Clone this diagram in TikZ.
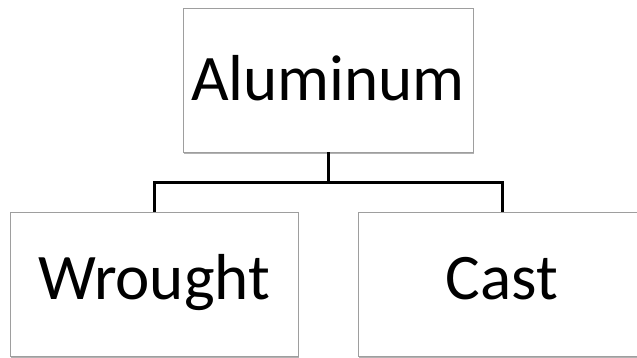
\documentclass[tikz,border=0pt]{standalone}
\usepackage{fontspec}
\setmainfont{Carlito}
\usetikzlibrary{shadows}
\begin{document}
\begin{tikzpicture}[x=1pt,y=1pt,
  box/.style={draw=black!38, line width=0.8pt, fill=white, minimum width=288pt, minimum height=144pt,
    inner sep=0pt, font=\fontsize{65}{70}\selectfont, text height=42pt, text depth=0pt,
    drop shadow={shadow xshift=1pt, shadow yshift=-2pt, opacity=0.3, fill=black}},
  conn/.style={line width=3pt, black}]
\useasboundingbox (0,0) rectangle (637,-358);
\clip (0,0) rectangle (637,-358);
\node[box, minimum width=290pt] (top) at (328,-80) {Aluminum};
\node[box, text depth=11pt] (wrought) at (154,-284) {Wrought};
\node[box, text depth=11pt] (cast) at (502,-284) {Cast};
\coordinate (j) at (328,-183);
\draw[conn] (top.south) -- (j);
\draw[conn] (wrought.north) |- (j) -| (cast.north);
\end{tikzpicture}
\end{document}
